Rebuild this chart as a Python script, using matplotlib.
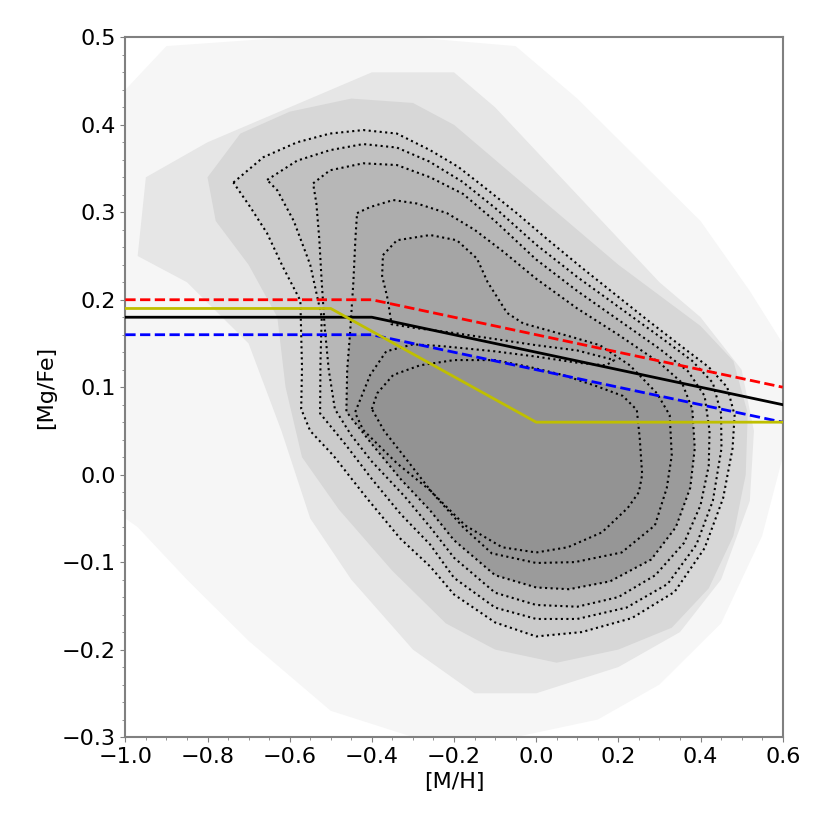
import numpy as np
import matplotlib
matplotlib.use('Agg')
import matplotlib.pyplot as plt
from matplotlib.patches import Polygon
from matplotlib.ticker import MultipleLocator

# separation lines
line_x = [-1.0, -0.4, 0.6]
red_y = [0.20, 0.20, 0.10]
black_y = [0.18, 0.18, 0.08]
blue_y = [0.16, 0.16, 0.06]
yel_x = [-1.0, -0.5, 0.0, 0.6]
yel_y = [0.19, 0.19, 0.06, 0.06]

# density contours (outer -> inner), closed curves
c1_x = [-0.737, -0.664, -0.582, -0.502, -0.421, -0.339, -0.258, -0.19, -0.13, -0.05, 0.03, 0.11, 0.19, 0.27,
        0.35, 0.42, 0.465, 0.483, 0.478, 0.455, 0.41, 0.337, 0.233, 0.111, 0.0, -0.1, -0.2, -0.258, -0.331,
        -0.412, -0.494, -0.55, -0.572, -0.570, -0.574, -0.616, -0.655, -0.696]
c1_y = [0.334, 0.363, 0.380, 0.390, 0.394, 0.390, 0.371, 0.352, 0.33, 0.30, 0.268, 0.237, 0.207, 0.177,
        0.148, 0.123, 0.10, 0.068, 0.03, -0.027, -0.084, -0.134, -0.164, -0.18, -0.185, -0.169, -0.137, -0.105,
        -0.073, -0.027, 0.022, 0.05, 0.075, 0.123, 0.199, 0.237, 0.276, 0.306]

c2_x = [-0.655, -0.582, -0.502, -0.421, -0.339, -0.26, -0.18, -0.1, 0.0, 0.1, 0.2, 0.3, 0.38, 0.43, 0.45,
        0.451, 0.43, 0.39, 0.32, 0.22, 0.1, 0.0, -0.1, -0.2, -0.258, -0.33, -0.4, -0.465, -0.526, -0.525,
        -0.522, -0.55, -0.59, -0.63]
c2_y = [0.337, 0.359, 0.371, 0.378, 0.374, 0.358, 0.335, 0.305, 0.263, 0.226, 0.192, 0.158, 0.13, 0.105, 0.07,
        0.03, -0.03, -0.08, -0.125, -0.152, -0.165, -0.165, -0.152, -0.118, -0.08, -0.045, -0.005, 0.035, 0.07,
        0.13, 0.18, 0.24, 0.29, 0.325]

c3_x = [-0.543, -0.502, -0.421, -0.339, -0.258, -0.178, -0.1, 0.0, 0.1, 0.2, 0.3, 0.37, 0.41, 0.422, 0.42,
        0.40, 0.36, 0.29, 0.2, 0.1, 0.0, -0.1, -0.2, -0.258, -0.32, -0.4, -0.45, -0.49, -0.505, -0.515,
        -0.522, -0.528, -0.535]
c3_y = [0.333, 0.348, 0.356, 0.354, 0.340, 0.321, 0.29, 0.246, 0.21, 0.177, 0.144, 0.118, 0.09, 0.05, 0.01,
        -0.035, -0.078, -0.115, -0.14, -0.151, -0.149, -0.135, -0.095, -0.06, -0.025, 0.015, 0.045, 0.075, 0.12,
        0.17, 0.22, 0.27, 0.31]

c4_x = [-0.436, -0.404, -0.348, -0.29, -0.217, -0.15, -0.08, 0.0, 0.1, 0.2, 0.3, 0.355, 0.38, 0.386, 0.375,
        0.34, 0.28, 0.18, 0.08, 0.0, -0.1, -0.2, -0.258, -0.33, -0.4, -0.462, -0.46, -0.453, -0.445, -0.44]
c4_y = [0.299, 0.306, 0.314, 0.31, 0.299, 0.28, 0.255, 0.224, 0.19, 0.16, 0.128, 0.105, 0.075, 0.03, -0.015,
        -0.06, -0.097, -0.122, -0.131, -0.129, -0.115, -0.075, -0.041, -0.005, 0.035, 0.072, 0.12, 0.162, 0.22,
        0.27]

# this level wraps both peaks, with a notch along the gap between them
c5_x = [-0.373, -0.339, -0.258, -0.193, -0.144, -0.118, -0.095, -0.071, -0.032, 0.09, 0.155, 0.228, 0.294,
        0.325, 0.33, 0.318, 0.289, 0.208, 0.094, 0.0, -0.108, -0.178, -0.258, -0.339, -0.421, -0.441, -0.404,
        -0.365, -0.3, -0.23, -0.1, 0.0, 0.1, 0.17, 0.19, 0.1, 0.0, -0.1, -0.2, -0.3, -0.352, -0.358, -0.363,
        -0.375]
c5_y = [0.251, 0.268, 0.274, 0.268, 0.247, 0.22, 0.203, 0.185, 0.173, 0.157, 0.148, 0.125, 0.093,
        0.068, 0.022, -0.015, -0.058, -0.089, -0.1, -0.101, -0.09, -0.06, -0.018, 0.013, 0.051, 0.071, 0.114,
        0.141, 0.149, 0.147, 0.141, 0.135, 0.128, 0.125, 0.131, 0.142, 0.148, 0.155, 0.162, 0.168, 0.172, 0.19,
        0.204, 0.227]

c6_x = [-0.40, -0.387, -0.348, -0.283, -0.2, -0.1, -0.015, 0.065, 0.148, 0.211, 0.245, 0.252, 0.258, 0.25,
        0.223, 0.16, 0.077, 0.0, -0.083, -0.173, -0.254, -0.32, -0.37]
c6_y = [0.075, 0.093, 0.114, 0.125, 0.131, 0.131, 0.123, 0.114, 0.101, 0.09, 0.074, 0.042, 0.0, -0.02,
        -0.038, -0.066, -0.083, -0.089, -0.083, -0.058, -0.02, 0.02, 0.05]

# extent of the sparse star cloud around the contours (outer, middle, near)
halo_out_x = [-1.0, -1.0, -0.9, -0.6, -0.3, -0.05, 0.1, 0.25, 0.4, 0.52, 0.6, 0.6, 0.55, 0.45, 0.3, 0.15,
              -0.05, -0.3, -0.5, -0.7, -0.85, -0.97]
halo_out_y = [-0.05, 0.44, 0.49, 0.5, 0.5, 0.49, 0.43, 0.36, 0.29, 0.21, 0.15, 0.02, -0.07, -0.17, -0.24,
              -0.28, -0.3, -0.3, -0.27, -0.19, -0.12, -0.06]
halo_in_x = [-0.97, -0.95, -0.8, -0.6, -0.4, -0.2, -0.1, 0.0, 0.1, 0.2, 0.3, 0.4, 0.5, 0.53, 0.52, 0.45,
             0.35, 0.2, 0.0, -0.15, -0.3, -0.45, -0.55, -0.62, -0.7, -0.85]
halo_in_y = [0.25, 0.34, 0.38, 0.42, 0.46, 0.46, 0.42, 0.37, 0.32, 0.27, 0.22, 0.18, 0.12, 0.05, -0.03,
             -0.12, -0.18, -0.22, -0.25, -0.25, -0.2, -0.12, -0.05, 0.05, 0.15, 0.22]
halo_near_x = [-0.8, -0.72, -0.6, -0.45, -0.3, -0.2, -0.1, 0.0, 0.1, 0.2, 0.3, 0.4, 0.48, 0.515, 0.51, 0.48,
               0.42, 0.33, 0.2, 0.05, -0.1, -0.22, -0.35, -0.48, -0.57, -0.61, -0.63, -0.7, -0.78]
halo_near_y = [0.34, 0.39, 0.415, 0.43, 0.425, 0.40, 0.36, 0.32, 0.28, 0.24, 0.205, 0.17, 0.13, 0.07, 0.0,
               -0.07, -0.13, -0.175, -0.2, -0.215, -0.2, -0.17, -0.11, -0.04, 0.02, 0.1, 0.18, 0.24, 0.29]


def closed(x, y):
    return np.append(x, x[0]), np.append(y, y[0])


fig = plt.figure(figsize=(8.3, 8.3), dpi=100)
ax = fig.add_axes([0.151, 0.112, 0.792, 0.843])

# grey star cloud, shaded by density
ax.fill(halo_out_x, halo_out_y, color='#f6f6f6', lw=0, zorder=1)
ax.fill(halo_in_x, halo_in_y, color='#e6e6e6', lw=0, zorder=1)
ax.fill(halo_near_x, halo_near_y, color='#d7d7d7', lw=0, zorder=1)
levels = [(c1_x, c1_y, '#cbcbcb'), (c2_x, c2_y, '#c1c1c1'), (c3_x, c3_y, '#b7b7b7'),
          (c4_x, c4_y, '#adadad'), (c5_x, c5_y, '#a5a5a5')]
for cx, cy, col in levels:
    ax.fill(cx, cy, color=col, lw=0, zorder=1)

# the lower peak is saturated: solid grey below the blue line
lower = Polygon(np.column_stack([line_x + [0.6, -1.0], blue_y + [-0.3, -0.3]]),
                transform=ax.transData, visible=False)
for cx, cy, col in [(c4_x, c4_y, '#9b9b9b'), (c5_x, c5_y, '#969696')]:
    for p in ax.fill(cx, cy, color=col, lw=0, zorder=1):
        p.set_clip_path(lower)
ax.fill(c6_x, c6_y, color='#939393', lw=0, zorder=1)

# dotted contours
for cx, cy in [(c1_x, c1_y), (c2_x, c2_y), (c3_x, c3_y), (c4_x, c4_y), (c5_x, c5_y), (c6_x, c6_y)]:
    xx, yy = closed(cx, cy)
    ax.plot(xx, yy, color='k', ls=':', lw=1.5, zorder=2)

ax.plot(line_x, red_y, 'r--', lw=2, zorder=3)
ax.plot(line_x, black_y, 'k-', lw=2, zorder=3)
ax.plot(line_x, blue_y, 'b--', lw=2, zorder=3)
ax.plot(yel_x, yel_y, color='y', lw=2, zorder=3)

ax.set_xlim(-1.0, 0.6)
ax.set_ylim(-0.3, 0.5)
ax.set_xlabel('[M/H]', fontsize=16)
ax.set_ylabel('[Mg/Fe]', fontsize=16)
ax.xaxis.set_minor_locator(MultipleLocator(0.05))
ax.yaxis.set_minor_locator(MultipleLocator(0.02))
ax.tick_params(which='both', labelsize=16, color='gray')
for s in ax.spines.values():
    s.set_color('gray')
    s.set_linewidth(1.5)

fig.savefig('out.png', dpi=100)
